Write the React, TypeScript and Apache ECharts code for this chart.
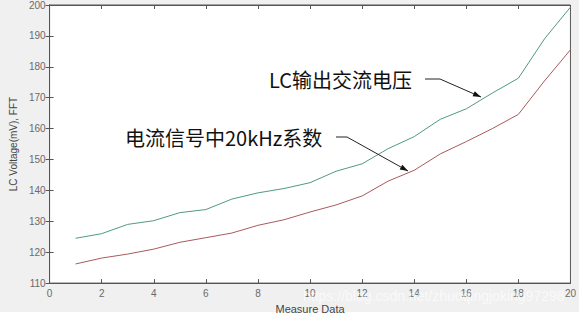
import React, { useEffect, useRef } from "react";
import * as echarts from "echarts";

const xValues = [1, 2, 3, 4, 5, 6, 7, 8, 9, 10, 11, 12, 13, 14, 15, 16, 17, 18, 19, 20];
const lcVoltage = [124.5, 126, 129, 130.2, 132.8, 133.8, 137.2, 139.2, 140.6, 142.5, 146.2, 148.6, 153.5, 157.4, 163, 166.4, 171.5, 176.3, 189, 199.3];
const fft20k = [116.2, 118.1, 119.4, 121, 123.2, 124.7, 126.2, 128.7, 130.5, 133, 135.3, 138.2, 143, 146.5, 151.8, 155.8, 160, 164.6, 175.4, 185.5];
const xAxisName = "Measure Data";
const yAxisName = "LC Voltage(mV), FFT";
const label1 = "LC输出交流电压";
const label2 = "电流信号中20kHz系数";
const watermark = "https://blog.csdn.net/zhuoqingjoking97298";

function arrowHead(x0: number, y0: number, x1: number, y1: number, len = 8, half = 2.8) {
  const dx = x1 - x0;
  const dy = y1 - y0;
  const l = Math.sqrt(dx * dx + dy * dy);
  const ux = dx / l;
  const uy = dy / l;
  const bx = x1 - ux * len;
  const by = y1 - uy * len;
  return [
    [x1, y1],
    [bx - uy * half, by + ux * half],
    [bx + uy * half, by - ux * half],
  ];
}

export default function App() {
  const ref = useRef<HTMLDivElement>(null);
  useEffect(() => {
    document.body.style.margin = "0";
    const chart = echarts.init(ref.current!, undefined, { renderer: "svg" });
    const font = "Liberation Sans, Arial, sans-serif";
    const axisColor = "#555";
    const labelColor = "#6a6a6a";
    const pts = (arr: number[]) => xValues.map((x, i) => [x, arr[i]]);

    const a1: [number, number, number, number] = [440, 79, 481, 97];
    const a2: [number, number, number, number] = [347, 137, 408, 171];

    chart.setOption({
      animation: false,
      backgroundColor: "#ffffff",
      grid: {
        left: 32,
        right: 7,
        top: 3,
        bottom: 34,
        show: true,
        backgroundColor: "#ffffff",
        borderColor: axisColor,
        borderWidth: 1,
      },
      xAxis: [
        {
          type: "value",
          min: 0,
          max: 20,
          interval: 2,
          position: "bottom",
          name: xAxisName,
          nameLocation: "middle",
          nameGap: 15,
          nameTextStyle: { color: "#444", fontSize: 11, fontFamily: font },
          axisLine: { show: true, lineStyle: { color: axisColor } },
          axisTick: { show: true, inside: true, length: 4, lineStyle: { color: axisColor } },
          axisLabel: { color: labelColor, fontSize: 10, fontFamily: font, margin: 5 },
          splitLine: { show: false },
        },
        {
          type: "value",
          min: 0,
          max: 20,
          interval: 2,
          position: "top",
          axisLine: { show: true, lineStyle: { color: axisColor } },
          axisTick: { show: true, inside: true, length: 4, lineStyle: { color: axisColor } },
          axisLabel: { show: false },
          splitLine: { show: false },
        },
      ],
      yAxis: [
        {
          type: "value",
          min: 110,
          max: 200,
          interval: 10,
          position: "left",
          name: yAxisName,
          nameLocation: "middle",
          nameGap: 22,
          nameTextStyle: { color: "#444", fontSize: 10, fontFamily: font },
          axisLine: { show: true, lineStyle: { color: axisColor } },
          axisTick: { show: true, inside: true, length: 4, lineStyle: { color: axisColor } },
          axisLabel: { color: labelColor, fontSize: 10, fontFamily: font, margin: 4 },
          splitLine: { show: false },
        },
        {
          type: "value",
          min: 110,
          max: 200,
          interval: 10,
          position: "right",
          axisLine: { show: true, lineStyle: { color: axisColor } },
          axisTick: { show: true, inside: true, length: 4, lineStyle: { color: axisColor } },
          axisLabel: { show: false },
          splitLine: { show: false },
        },
      ],
      series: [
        {
          type: "line",
          name: label1,
          data: pts(lcVoltage),
          showSymbol: false,
          lineStyle: { color: "#4f9a82", width: 1 },
          itemStyle: { color: "#4f9a82" },
          z: 3,
        },
        {
          type: "line",
          name: label2,
          data: pts(fft20k),
          showSymbol: false,
          lineStyle: { color: "#a85a5e", width: 1 },
          itemStyle: { color: "#a85a5e" },
          z: 3,
        },
      ],
      graphic: [
        {
          type: "rect",
          shape: { x: 0, y: 0, width: 579, height: 312 },
          style: { fill: "#f0f0f0" },
          z: -10,
          silent: true,
        },
        {
          type: "text",
          x: 269,
          y: 79,
          style: {
            text: label1,
            fill: "#111",
            fontSize: 20,
            fontFamily: "Noto Sans CJK SC, sans-serif",
            verticalAlign: "middle",
          },
          z: 10,
        },
        {
          type: "polyline",
          shape: { points: [[425, 79], [a1[0], a1[1]], [a1[2], a1[3]]] },
          style: { stroke: "#222", lineWidth: 1, fill: null },
          z: 10,
        },
        {
          type: "polygon",
          shape: { points: arrowHead(a1[0], a1[1], a1[2], a1[3]) },
          style: { fill: "#111" },
          z: 10,
        },
        {
          type: "text",
          x: 125,
          y: 137,
          style: {
            text: label2,
            fill: "#111",
            fontSize: 20,
            fontFamily: "Noto Sans CJK SC, sans-serif",
            verticalAlign: "middle",
          },
          z: 10,
        },
        {
          type: "polyline",
          shape: { points: [[336, 137], [a2[0], a2[1]], [a2[2], a2[3]]] },
          style: { stroke: "#222", lineWidth: 1, fill: null },
          z: 10,
        },
        {
          type: "polygon",
          shape: { points: arrowHead(a2[0], a2[1], a2[2], a2[3]) },
          style: { fill: "#111" },
          z: 10,
        },
        {
          type: "text",
          x: 303,
          y: 296,
          style: {
            text: watermark,
            fill: "rgba(255,255,255,0.65)",
            fontSize: 14,
            fontFamily: font,
            verticalAlign: "middle",
          },
          z: 11,
        },
      ],
    });
    return () => chart.dispose();
  }, []);
  return <div ref={ref} style={{ width: 579, height: 319 }} />;
}
